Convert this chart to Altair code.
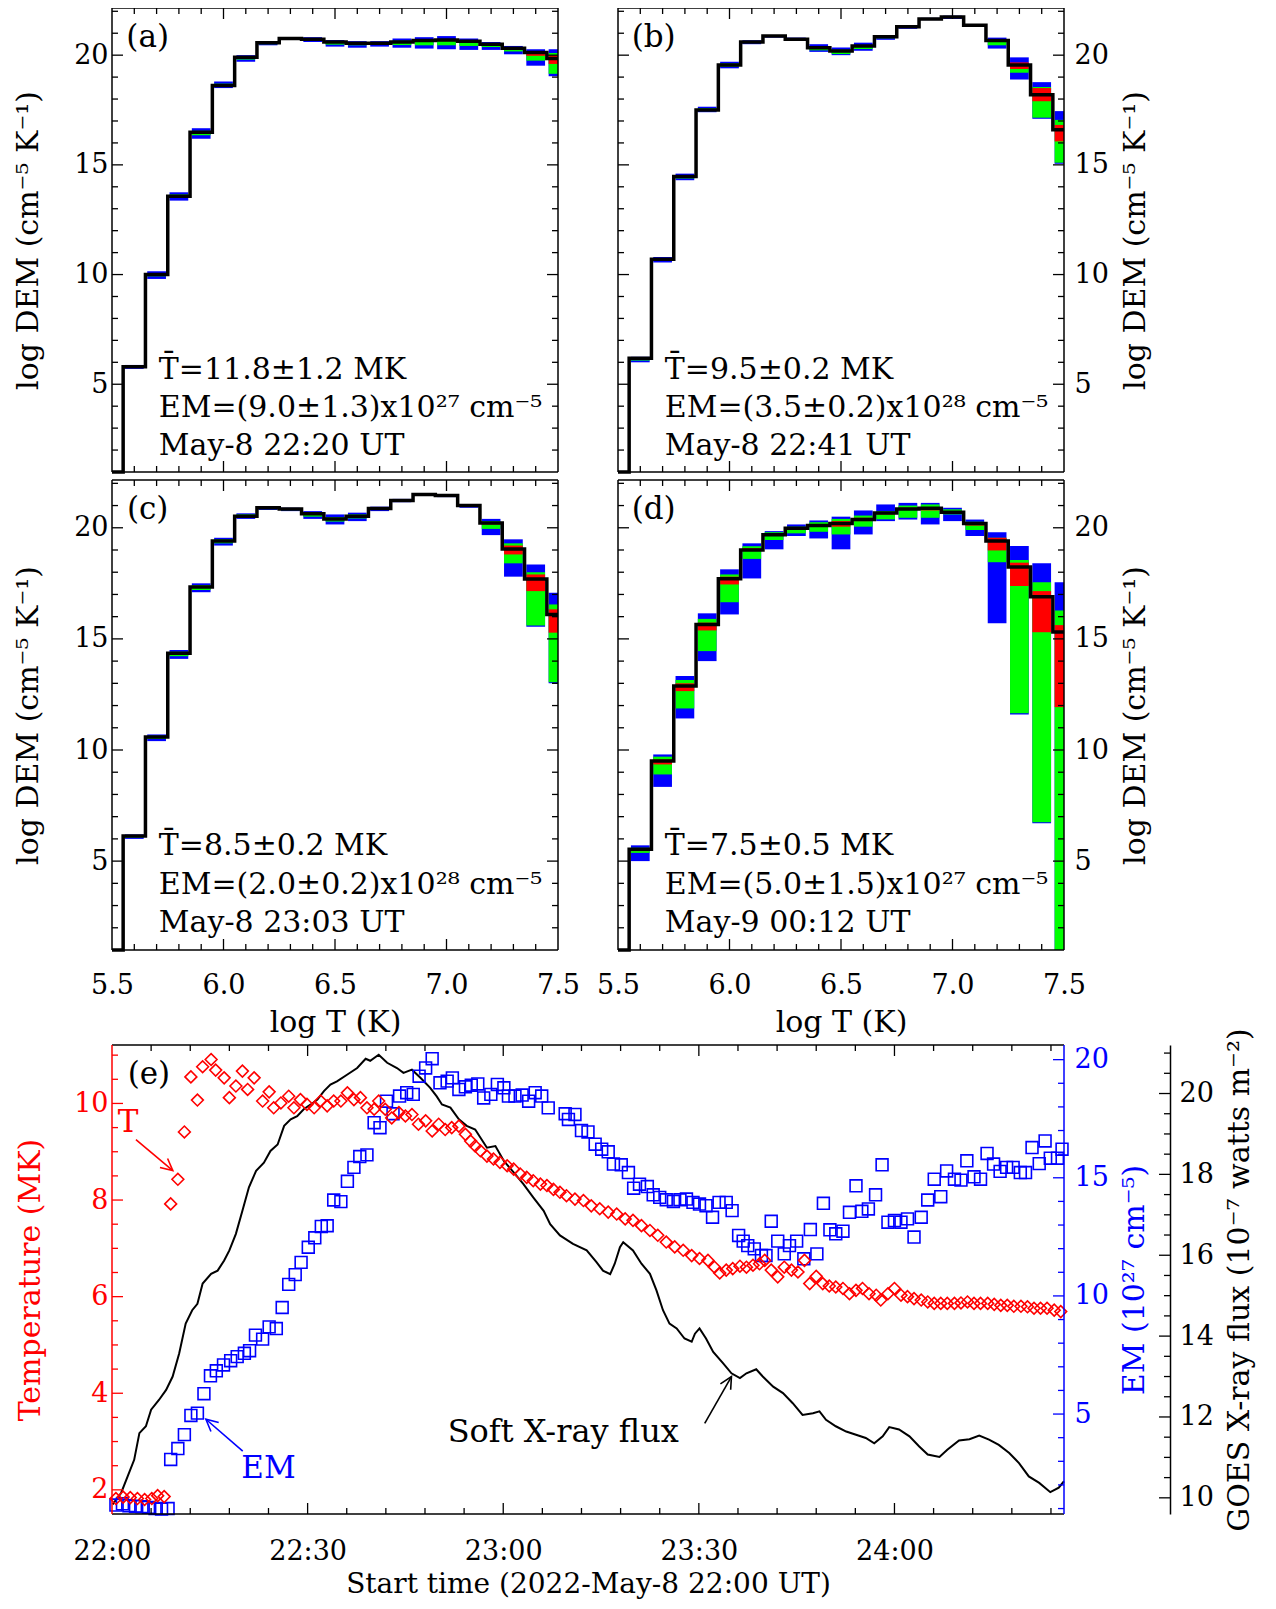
import altair as alt
import pandas as pd

FONT = "DejaVu Serif"
BLUE, GREEN, RED = "#0000ff", "#00ff00", "#ff0000"

# ---------------- DEM panels (a)-(d) ----------------
LOGT = [5.5, 5.6, 5.7, 5.8, 5.9, 6.0, 6.1, 6.2, 6.3, 6.4, 6.5,
        6.6, 6.7, 6.8, 6.9, 7.0, 7.1, 7.2, 7.3, 7.4, 7.5]

A_DEM = [1.0, 5.8, 10.0, 13.57, 16.49, 18.62, 19.9, 20.57, 20.76, 20.72, 20.6, 20.54, 20.54, 20.6, 20.67, 20.69, 20.64, 20.5, 20.31, 20.12, 19.85]
A_BLO = [None, 5.7, 9.8, 13.37, 16.19, 18.5, 19.7, 20.45, 20.69, 20.6, 20.39, 20.34, 20.39, 20.34, 20.3, 20.27, 20.24, 20.24, 20.04, 19.52, 19.04]
A_BHI = [None, 5.88, 10.15, 13.75, 16.67, 18.8, 20.0, 20.64, 20.8, 20.82, 20.69, 20.64, 20.64, 20.76, 20.82, 20.87, 20.76, 20.6, 20.42, 20.27, 20.27]
A_GLO = [None, 5.75, 9.92, 13.5, 16.35, 18.58, 19.8, 20.5, 20.71, 20.65, 20.48, 20.45, 20.47, 20.46, 20.45, 20.45, 20.42, 20.37, 20.17, 19.75, 19.15]
A_GHI = [None, 5.83, 10.05, 13.65, 16.55, 18.7, 19.95, 20.6, 20.78, 20.77, 20.62, 20.58, 20.58, 20.66, 20.7, 20.72, 20.66, 20.54, 20.34, 20.04, 20.1]
A_RLO = [None, 5.77, 9.97, 13.54, 16.45, 18.6, 19.87, 20.54, 20.73, 20.69, 20.56, 20.5, 20.51, 20.56, 20.62, 20.64, 20.59, 20.46, 20.27, 19.97, 19.6]
A_RHI = [None, 5.82, 10.02, 13.6, 16.52, 18.65, 19.93, 20.59, 20.77, 20.74, 20.62, 20.57, 20.56, 20.63, 20.7, 20.72, 20.67, 20.53, 20.35, 20.12, 20.0]

B_DEM = [1.0, 6.18, 10.7, 14.47, 17.5, 19.55, 20.6, 20.87, 20.72, 20.34, 20.19, 20.42, 20.84, 21.29, 21.65, 21.74, 21.36, 20.67, 19.55, 18.2, 16.6]
B_BLO = [None, 6.0, 10.55, 14.3, 17.4, 19.4, 20.5, 20.8, 20.65, 20.15, 20.0, 20.2, 20.7, 21.2, 21.6, 21.65, 21.3, 20.3, 18.89, 17.1, 15.05]
B_BHI = [None, 6.25, 10.8, 14.6, 17.65, 19.7, 20.68, 20.9, 20.8, 20.5, 20.35, 20.57, 20.9, 21.35, 21.7, 21.8, 21.4, 20.8, 19.9, 18.77, 17.45]
B_GLO = [None, 6.08, 10.62, 14.38, 17.45, 19.48, 20.55, 20.83, 20.68, 20.22, 20.05, 20.28, 20.77, 21.24, 21.62, 21.7, 21.33, 20.45, 19.2, 17.15, 15.1]
B_GHI = [None, 6.2, 10.75, 14.53, 17.58, 19.62, 20.64, 20.88, 20.76, 20.4, 20.25, 20.45, 20.87, 21.32, 21.68, 21.77, 21.38, 20.65, 19.6, 18.55, 17.05]
B_RLO = [None, 6.14, 10.67, 14.44, 17.48, 19.52, 20.58, 20.85, 20.7, 20.3, 20.15, 20.38, 20.82, 21.27, 21.64, 21.72, 21.35, 20.62, 19.37, 17.9, 16.07]
B_RHI = [None, 6.2, 10.73, 14.5, 17.53, 19.58, 20.62, 20.89, 20.75, 20.37, 20.22, 20.45, 20.86, 21.31, 21.67, 21.76, 21.38, 20.7, 19.67, 18.5, 16.82]

C_DEM = [1.0, 6.13, 10.58, 14.35, 17.33, 19.4, 20.52, 20.9, 20.85, 20.63, 20.4, 20.52, 20.87, 21.23, 21.5, 21.45, 21.0, 20.22, 19.05, 17.7, 16.1]
C_BLO = [None, 6.0, 10.4, 14.1, 17.1, 19.2, 20.4, 20.8, 20.75, 20.4, 20.15, 20.3, 20.75, 21.15, 21.45, 21.38, 20.9, 19.67, 17.8, 15.55, 13.0]
C_BHI = [None, 6.2, 10.7, 14.5, 17.5, 19.55, 20.65, 20.95, 20.9, 20.75, 20.6, 20.68, 20.95, 21.3, 21.55, 21.5, 21.05, 20.4, 19.48, 18.35, 17.08]
C_GLO = [None, 6.06, 10.5, 14.22, 17.2, 19.3, 20.47, 20.84, 20.79, 20.5, 20.28, 20.42, 20.8, 21.19, 21.47, 21.41, 20.95, 19.95, 18.4, 15.6, 13.05]
C_GHI = [None, 6.17, 10.64, 14.42, 17.42, 19.48, 20.6, 20.92, 20.88, 20.68, 20.48, 20.6, 20.92, 21.27, 21.53, 21.48, 21.03, 20.3, 19.3, 18.0, 16.55]
C_RLO = [None, 6.1, 10.55, 14.32, 17.3, 19.37, 20.5, 20.88, 20.83, 20.6, 20.36, 20.49, 20.85, 21.21, 21.49, 21.43, 20.98, 20.15, 18.8, 17.15, 15.28]
C_RHI = [None, 6.16, 10.61, 14.38, 17.36, 19.43, 20.55, 20.92, 20.87, 20.66, 20.43, 20.55, 20.9, 21.26, 21.52, 21.47, 21.02, 20.25, 19.2, 17.9, 16.33]

D_DEM = [1.0, 5.53, 9.51, 12.88, 15.65, 17.71, 19.0, 19.69, 19.98, 20.1, 20.19, 20.37, 20.66, 20.85, 20.88, 20.7, 20.19, 19.4, 18.23, 16.9, 15.31]
D_BLO = [None, 5.0, 8.34, 11.42, 14.0, 16.1, 17.72, 19.03, 19.63, 19.52, 19.03, 19.7, 20.3, 20.37, 20.15, 20.3, 19.63, 15.7, 11.6, 6.7, 1.0]
D_BHI = [None, 5.71, 9.8, 13.33, 16.15, 18.13, 19.3, 19.85, 20.15, 20.33, 20.5, 20.78, 21.05, 21.12, 21.12, 20.9, 20.37, 19.8, 19.18, 18.4, 17.55]
D_GLO = [None, 5.37, 8.9, 11.87, 14.45, 16.65, 18.6, 19.45, 19.75, 19.82, 19.7, 20.05, 20.38, 20.45, 20.45, 20.6, 19.9, 18.45, 11.65, 6.75, 1.0]
D_GHI = [None, 5.6, 9.7, 13.15, 15.9, 17.9, 19.17, 19.8, 20.05, 20.25, 20.4, 20.55, 20.75, 21.0, 21.05, 20.83, 20.27, 19.55, 18.55, 17.55, 16.28]
D_RLO = [None, 5.45, 9.35, 12.65, 15.38, 17.45, 19.0, 19.65, 19.93, 20.05, 20.05, 20.3, 20.6, 20.8, 20.78, 20.65, 20.1, 18.98, 17.38, 15.3, 11.93]
D_RHI = [None, 5.55, 9.57, 13.0, 15.73, 17.8, 19.08, 19.72, 20.0, 20.15, 20.3, 20.45, 20.7, 20.9, 20.88, 20.75, 20.22, 19.55, 18.43, 17.15, 15.62]

TXT_A = ["T\u0304=11.8\u00b11.2 MK", "EM=(9.0\u00b11.3)x10\u00b2\u2077 cm\u207b\u2075", "May-8 22:20 UT"]
TXT_B = ["T\u0304=9.5\u00b10.2 MK", "EM=(3.5\u00b10.2)x10\u00b2\u2078 cm\u207b\u2075", "May-8 22:41 UT"]
TXT_C = ["T\u0304=8.5\u00b10.2 MK", "EM=(2.0\u00b10.2)x10\u00b2\u2078 cm\u207b\u2075", "May-8 23:03 UT"]
TXT_D = ["T\u0304=7.5\u00b10.5 MK", "EM=(5.0\u00b11.5)x10\u00b2\u2077 cm\u207b\u2075", "May-9 00:12 UT"]
TXT_X = [5.71, 5.71, 5.71]
TXT_Y = [5.66, 3.91, 2.2]

DEM_XTICKS = [5.5, 6.0, 6.5, 7.0, 7.5]
DEM_YTICKS = [5, 10, 15, 20]
DEM_XMINOR = [5.6, 5.7, 5.8, 5.9, 6.1, 6.2, 6.3, 6.4, 6.6, 6.7, 6.8, 6.9, 7.1, 7.2, 7.3, 7.4]
DEM_XMAJOR = [6.0, 6.5, 7.0]
DEM_YMINOR = [2, 3, 4, 6, 7, 8, 9, 11, 12, 13, 14, 16, 17, 18, 19, 21, 22]
DEM_YMAJOR = [5, 10, 15, 20]
DEM_TITLE = "log DEM (cm\u207b\u2075 K\u207b\u00b9)"

# ---------------- panel (e) ----------------
T_TIME = [0.6, 1.7, 2.8, 3.9, 5.0, 6.1, 7.0, 8.0, 9.0, 10.1, 11.1, 12.1, 13.1, 13.9, 15.2, 15.9, 17.2, 18.0,
          19.0, 20.0, 20.8, 21.8, 23.1, 24.1, 24.8, 25.9, 27.1, 27.9, 28.9, 29.9, 31.0, 32.0, 33.0, 34.0,
          35.1, 36.1, 37.1, 38.1, 39.1, 40.2, 40.9, 41.9, 42.9, 44.0, 45.0, 46.0, 47.0, 48.1, 49.1, 50.1,
          51.1, 52.1, 53.2, 54.2, 55.0, 55.7, 56.5, 57.5, 58.5, 59.5, 60.6, 61.6, 62.6, 63.6, 64.6, 65.7,
          66.7, 67.7, 68.7, 69.7, 71.0, 72.3, 73.5, 74.8, 76.1, 77.4, 78.7, 79.9, 81.2, 82.5, 83.7, 85.0,
          86.3, 87.6, 88.9, 90.1, 91.4, 92.4, 93.2, 94.2, 95.2, 96.3, 97.3, 98.3, 99.3, 100.1, 101.1, 102.1,
          103.1, 104.2, 105.2, 106.2, 107.0, 108.0, 109.0, 110.0, 111.0, 112.1, 113.1, 114.1, 115.1, 116.1,
          117.2, 117.9, 119.0, 120.0, 121.0, 122.0, 123.0, 124.1, 125.1, 126.1, 127.1, 128.1, 129.2, 130.2,
          131.2, 132.2, 133.2, 134.3, 135.3, 136.3, 137.3, 138.3, 139.4, 140.4, 141.4, 142.4, 143.4, 144.5, 145.5]
T_VAL = [1.82, 1.85, 1.84, 1.82, 1.8, 1.82, 1.88, 1.86, 7.92, 8.43, 9.41, 10.55, 10.07, 10.76, 10.91, 10.69, 10.53, 10.12,
         10.36, 10.67, 10.29, 10.53, 10.05, 10.24, 9.91, 10.01, 10.15, 9.91, 10.08, 9.98, 9.91, 10.05, 9.95, 10.05,
         10.05, 10.22, 10.08, 10.12, 9.91, 9.88, 10.05, 9.88, 9.7, 9.81, 9.74, 9.77, 9.57, 9.64, 9.43, 9.57,
         9.46, 9.5, 9.53, 9.36, 9.22, 9.12, 9.02, 8.91, 8.85, 8.78, 8.71, 8.64, 8.54, 8.47, 8.4, 8.33,
         8.3, 8.22, 8.16, 8.09, 8.02, 7.99, 7.88, 7.82, 7.75, 7.71, 7.61, 7.58, 7.47, 7.37, 7.27, 7.13,
         7.03, 6.96, 6.85, 6.79, 6.75, 6.61, 6.49, 6.55, 6.58, 6.63, 6.61, 6.65, 6.68, 6.75, 6.55, 6.41,
         6.61, 6.55, 6.51, 6.75, 6.27, 6.42, 6.27, 6.22, 6.2, 6.17, 6.06, 6.13, 6.17, 6.06,
         6.03, 5.93, 6.06, 6.17, 6.03, 6.0, 5.96, 5.93, 5.89, 5.86, 5.86, 5.86, 5.86, 5.87,
         5.89, 5.86, 5.86, 5.86, 5.84, 5.82, 5.82, 5.8, 5.8, 5.79, 5.76, 5.76, 5.76, 5.72, 5.69]

EM_TIME = [0.6, 1.6, 2.6, 3.6, 4.6, 5.6, 6.6, 7.6, 8.6, 9.0, 10.1, 11.1, 12.1, 13.1, 14.1, 15.1, 16.0, 17.1, 18.2,
           19.2, 20.3, 21.1, 22.0, 23.1, 24.1, 25.2, 26.1, 27.1, 28.1, 29.0, 30.1, 31.1, 32.1, 33.0, 34.0,
           35.1, 36.1, 37.1, 38.0, 39.1, 40.2, 41.1, 42.1, 43.1, 44.1, 45.2, 46.2, 47.1, 48.1, 49.1, 50.3,
           51.4, 52.2, 53.2, 54.2, 55.1, 56.1, 57.0, 58.1, 59.1, 60.1, 60.8, 61.8, 62.9, 63.9, 64.9, 65.9,
           66.9, 69.5, 70.0, 71.0, 72.0, 73.0, 74.1, 75.1, 76.1, 76.9, 78.1, 79.2, 80.0, 80.9, 82.1, 83.0,
           84.0, 85.0, 86.1, 87.1, 88.1, 89.1, 90.1, 91.1, 92.1, 93.1, 94.2, 95.1, 96.1, 96.8, 97.5, 98.5,
           99.6, 100.3, 101.1, 102.1, 103.1, 103.9, 105.0, 106.1, 107.1, 108.1, 109.1, 110.1, 111.0, 112.1,
           113.1, 114.1, 115.0, 116.0, 117.1, 118.1, 119.0, 120.0, 121.0, 122.0, 123.0, 124.1, 125.1, 126.1,
           127.1, 128.0, 129.2, 130.2, 131.1, 132.2, 133.2, 134.2, 135.2, 136.2, 137.2, 138.2, 139.3, 140.1,
           141.1, 142.2, 143.1, 143.9, 145.0, 145.7]
EM_VAL = [1.15, 1.2, 1.12, 1.1, 1.08, 1.05, 1.0, 0.98, 1.0, 3.08, 3.54, 4.13, 4.94, 5.04, 5.86, 6.62, 6.83, 7.08, 7.26,
          7.43, 7.57, 7.68, 8.34, 8.17, 8.69, 8.62, 9.51, 10.49, 10.9, 11.42, 12.06, 12.46, 12.94, 12.97, 14.06,
          13.99, 14.85, 15.44, 15.9, 15.97, 17.33, 17.12, 18.24, 17.71, 18.46, 18.6, 18.53, 19.3, 19.65, 20.04, 19.02,
          19.09, 19.23, 18.74, 18.85, 18.92, 18.97, 18.38, 18.53, 18.95, 18.81, 18.46, 18.46, 18.5, 18.24, 18.6, 18.46,
          17.96, 17.71, 17.47, 17.68, 17.0, 16.94, 16.42, 16.21, 16.1, 15.58, 15.55, 15.22, 14.56, 14.73, 14.63, 14.28,
          14.17, 14.07, 14.0, 14.07, 14.1, 13.96, 13.89, 13.82, 13.33, 13.96, 13.96, 13.61, 12.56, 12.32, 12.13, 11.99,
          11.71, 11.71, 13.16, 12.32, 11.78, 12.13, 12.32, 11.57, 12.81, 11.78, 13.92, 12.8, 12.63, 12.74,
          13.54, 14.66, 13.58, 13.68, 14.28, 15.55, 13.12, 13.19, 13.12, 13.26, 12.49, 13.33, 14.06, 14.94,
          14.2, 15.29, 14.94, 14.9, 15.72, 15.04, 14.94, 16.03, 15.58, 15.27, 15.44, 15.44, 15.22, 15.22,
          16.28, 15.6, 16.56, 15.83, 15.83, 16.21]

GOES_TIME = [0.1, 1.4, 2.4, 3.4, 4.2, 5.2, 6.0, 7.2, 8.3, 9.3, 10.3, 11.3, 12.3, 13.1, 13.9, 15.2, 16.2, 17.2, 18.0,
             19.0, 20.0, 21.0, 22.1, 23.3, 24.3, 25.4, 26.4, 27.4, 28.4, 29.4, 30.5, 31.5, 32.5, 33.5, 34.5, 36.1,
             37.6, 38.9, 39.6, 40.9, 42.2, 43.7, 44.7, 46.0, 47.3, 48.8, 49.8, 50.6, 51.9, 53.2, 54.4, 55.7, 57.5,
             58.8, 60.1, 61.6, 63.1, 64.6, 66.2, 67.2, 68.7, 70.7, 72.8, 74.3, 75.3, 76.4, 77.1, 77.9, 78.4, 79.9,
             81.2, 82.5, 83.5, 84.5, 85.5, 86.6, 87.8, 88.9, 89.4, 90.1, 91.1, 92.2, 93.7, 95.0, 96.3, 97.3, 98.8,
             99.8, 101.4, 102.9, 104.4, 105.9, 107.5, 108.5, 109.5, 111.0, 112.6, 114.1, 115.6, 116.9, 118.2, 119.2,
             120.7, 122.3, 123.8, 125.1, 126.9, 128.1, 129.9, 131.5, 133.0, 134.5, 136.0, 137.6, 139.1, 140.6, 142.2,
             143.9, 145.2, 146.0]
GOES_VAL = [9.84, 10.12, 10.53, 10.94, 11.6, 11.77, 12.18, 12.42, 12.67, 13.0, 13.57, 14.31, 14.64, 14.8, 15.3, 15.54,
            15.62, 15.87, 16.12, 16.53, 17.1, 17.68, 18.09, 18.29, 18.58, 18.74, 19.2, 19.36, 19.44, 19.61, 19.73, 19.85,
            20.06, 20.22, 20.3, 20.47, 20.63, 20.86, 20.81, 20.96, 20.76, 20.63, 20.51, 20.59, 20.39, 20.14, 19.93, 19.73,
            19.65, 19.36, 19.2, 19.11, 18.66, 18.7, 18.33, 18.05, 17.76, 17.43, 17.1, 16.77, 16.49, 16.28, 16.12, 15.83,
            15.62, 15.53, 15.79, 16.2, 16.32, 16.12, 15.79, 15.54, 15.13, 14.64, 14.31, 14.19, 13.94, 13.86, 14.06, 14.19,
            13.94, 13.61, 13.33, 13.08, 12.96, 13.08, 13.18, 13.0, 12.75, 12.59, 12.34, 12.05, 12.09, 12.14, 11.93, 11.77,
            11.64, 11.56, 11.48, 11.35, 11.52, 11.75, 11.69, 11.52, 11.27, 11.07, 11.01, 11.19, 11.42, 11.45, 11.54, 11.44,
            11.31, 11.11, 10.86, 10.53, 10.37, 10.14, 10.25, 10.41]

TIME_TICKS = [0, 30, 60, 90, 120]
TIME_LABELS = ["22:00", "22:30", "23:00", "23:30", "24:00"]
TIME_MINOR = [6, 12, 18, 24, 36, 42, 48, 54, 66, 72, 78, 84, 96, 102, 108, 114, 126, 132, 138, 144]
TIME_MAJOR = [30, 60, 90, 120]
T_TICKS = [2, 4, 6, 8, 10]
T_MINOR = [2.5, 3, 3.5, 4.5, 5, 5.5, 6.5, 7, 7.5, 8.5, 9, 9.5, 10.5, 11]
EM_TICKS = [5, 10, 15, 20]
EM_MINOR = [1, 2, 3, 4, 6, 7, 8, 9, 11, 12, 13, 14, 16, 17, 18, 19]
G_TICKS = [10, 12, 14, 16, 18, 20]
G_MINOR = [10.5, 11, 11.5, 12.5, 13, 13.5, 14.5, 15, 15.5, 16.5, 17, 17.5, 18.5, 19, 19.5, 20.5, 21]

# ---------------- geometry (pixels inside the single view) ----------------
WE = 952
COL1, COL2 = (0, 446), (506, 952)
ROW1, ROW2, ROWE = (0, 464), (472, 942), (1037, 1506)
HT = ROWE[1]
GOFF = 106
HALF = 0.042
VHEAD = "M-0.5,1 L0,0 L0.5,1"


def sc(domain, rng):
    return alt.Scale(domain=domain, range=list(rng), nice=False, zero=False)


def rule_layer(vals, channel, scale, p0, p1, color):
    df = pd.DataFrame({"v": vals})
    if channel == "x":
        enc = dict(x=alt.X("v:Q", scale=scale, axis=None), y=alt.value(p0), y2=alt.value(p1))
    else:
        enc = dict(y=alt.Y("v:Q", scale=scale, axis=None), x=alt.value(p0), x2=alt.value(p1))
    return alt.Chart(df).mark_rule(color=color, strokeWidth=1.3).encode(**enc)


def seg(x0, x1, y0, y1, color, width=1.5):
    df = pd.DataFrame({"k": [0]})
    return alt.Chart(df).mark_rule(color=color, strokeWidth=width).encode(
        x=alt.value(x0), x2=alt.value(x1), y=alt.value(y0), y2=alt.value(y1))


def text_layer(xv, yv, labels, xs, ys, color, size, align="center"):
    df = pd.DataFrame({"x": xv, "y": yv, "label": labels})
    return alt.Chart(df).mark_text(align=align, baseline="middle", font=FONT, fontSize=size, color=color).encode(
        x=alt.X("x:Q", scale=xs, axis=None), y=alt.Y("y:Q", scale=ys, axis=None), text="label:N")


def dem_panel(dem, blo, bhi, glo, ghi, rlo, rhi, letter, lines, col, row, right_axis, show_x):
    xs = sc([5.5, 7.5], col)
    ys = sc([1.0, 22.15], (row[1], row[0]))
    df = pd.DataFrame({"t": LOGT, "dem": dem, "blo": blo, "bhi": bhi,
                       "glo": glo, "ghi": ghi, "rlo": rlo, "rhi": rhi})
    base = alt.Chart(df)
    if show_x:
        xax = alt.Axis(values=DEM_XTICKS, format=".1f", title="log T (K)", orient="bottom",
                       offset=row[1] - HT, labelPadding=22, titlePadding=9)
    else:
        xax = None
    if right_axis:
        yax = alt.Axis(values=DEM_YTICKS, title=DEM_TITLE, orient="right", labelPadding=10,
                       titlePadding=12, titleAngle=270, titleBaseline="top", labelAlign="left")
    else:
        yax = alt.Axis(values=DEM_YTICKS, title=DEM_TITLE, orient="left", labelPadding=4,
                       titlePadding=30)
    layers = []
    for lo, hi, colr in (("blo", "bhi", BLUE), ("glo", "ghi", GREEN), ("rlo", "rhi", RED)):
        layers.append(
            base.transform_calculate(x0=f"max(datum.t - {HALF}, 5.5)", x1=f"min(datum.t + {HALF}, 7.5)")
            .mark_rect(color=colr)
            .encode(x=alt.X("x0:Q", scale=xs, axis=None), x2="x1:Q",
                    y=alt.Y(f"{lo}:Q", scale=ys, axis=None), y2=f"{hi}:Q")
        )
    layers.append(
        base.mark_line(interpolate="step", color="black", strokeWidth=3.5)
        .encode(x=alt.X("t:Q", scale=xs, axis=xax), y=alt.Y("dem:Q", scale=ys, axis=yax))
    )
    x0, x1 = col
    ytop, ybot = row
    layers += [
        rule_layer(DEM_XMINOR, "x", xs, ybot, ybot - 6, "black"),
        rule_layer(DEM_XMINOR, "x", xs, ytop, ytop + 6, "black"),
        rule_layer(DEM_XMAJOR, "x", xs, ybot, ybot - 11, "black"),
        rule_layer(DEM_XMAJOR, "x", xs, ytop, ytop + 11, "black"),
        rule_layer(DEM_YMINOR, "y", ys, x0, x0 + 6, "black"),
        rule_layer(DEM_YMINOR, "y", ys, x1 - 6, x1, "black"),
        rule_layer(DEM_YMAJOR, "y", ys, x0, x0 + 11, "black"),
        rule_layer(DEM_YMAJOR, "y", ys, x1 - 11, x1, "black"),
        seg(x0, x1, ytop, ytop, "black"), seg(x0, x1, ybot, ybot, "black"),
        seg(x0, x0, ytop, ybot, "black"), seg(x1, x1, ytop, ybot, "black"),
        text_layer(TXT_X, TXT_Y, lines, xs, ys, "black", 30, align="left"),
        text_layer([5.66], [20.8], [letter], xs, ys, "black", 31),
    ]
    return layers


layers = []
layers += dem_panel(A_DEM, A_BLO, A_BHI, A_GLO, A_GHI, A_RLO, A_RHI, "(a)", TXT_A, COL1, ROW1, False, False)
layers += dem_panel(B_DEM, B_BLO, B_BHI, B_GLO, B_GHI, B_RLO, B_RHI, "(b)", TXT_B, COL2, ROW1, True, False)
layers += dem_panel(C_DEM, C_BLO, C_BHI, C_GLO, C_GHI, C_RLO, C_RHI, "(c)", TXT_C, COL1, ROW2, False, True)
layers += dem_panel(D_DEM, D_BLO, D_BHI, D_GLO, D_GHI, D_RLO, D_RHI, "(d)", TXT_D, COL2, ROW2, True, True)

# ---- panel (e)
XE = sc([0, 146], (0, WE))
TS = sc([1.5, 11.21], (ROWE[1], ROWE[0]))
ES = sc([0.77, 20.62], (ROWE[1], ROWE[0]))
GS = sc([9.6, 21.2], (ROWE[1], ROWE[0]))
label_expr = " : ".join(f"datum.value == {v} ? '{l}'" for v, l in zip(TIME_TICKS, TIME_LABELS)) + " : ''"


def arrow_layers(x0, y0, x1, y1, xs, ys, color, angle):
    df = pd.DataFrame({"x0": [x0], "y0": [y0], "x1": [x1], "y1": [y1]})
    line = alt.Chart(df).mark_rule(color=color, strokeWidth=1.6).encode(
        x=alt.X("x0:Q", scale=xs, axis=None), y=alt.Y("y0:Q", scale=ys, axis=None), x2="x1:Q", y2="y1:Q")
    head = alt.Chart(df).mark_point(shape=VHEAD, angle=angle, size=560, filled=False, color=color,
                                    strokeWidth=1.6, opacity=1).encode(
        x=alt.X("x1:Q", scale=xs, axis=None), y=alt.Y("y1:Q", scale=ys, axis=None))
    return [line, head]


tdf = pd.DataFrame({"t": T_TIME, "v": T_VAL})
edf = pd.DataFrame({"t": EM_TIME, "v": EM_VAL})
gdf = pd.DataFrame({"t": GOES_TIME, "v": GOES_VAL})

g_line = alt.Chart(gdf).mark_line(color="black", strokeWidth=2).encode(
    x=alt.X("t:Q", scale=XE, axis=None),
    y=alt.Y("v:Q", scale=GS, axis=alt.Axis(values=G_TICKS,
                                           title="GOES X-ray flux (10\u207b\u2077 watts m\u207b\u00b2)",
                                           orient="right", offset=GOFF, domain=True, domainColor="black",
                                           domainWidth=1.5, labelPadding=9, titlePadding=11,
                                           titleAngle=270, titleBaseline="top", labelAlign="left")))

t_points = alt.Chart(tdf).mark_point(shape="diamond", filled=False, color=RED, size=140,
                                     strokeWidth=1.6, opacity=1).encode(
    x=alt.X("t:Q", scale=XE, axis=alt.Axis(values=TIME_TICKS, labelExpr=label_expr,
                                           title="Start time (2022-May-8 22:00 UT)", orient="bottom",
                                           labelPadding=24, titlePadding=6, titleFontSize=28)),
    y=alt.Y("v:Q", scale=TS, axis=alt.Axis(values=T_TICKS, title="Temperature (MK)", orient="left",
                                           labelColor=RED, titleColor=RED, labelPadding=4,
                                           titlePadding=28)))

e_points = alt.Chart(edf).mark_point(shape="square", filled=False, color=BLUE, size=140,
                                     strokeWidth=1.6, opacity=1).encode(
    x=alt.X("t:Q", scale=XE, axis=None),
    y=alt.Y("v:Q", scale=ES, axis=alt.Axis(values=EM_TICKS, title="EM (10\u00b2\u2077 cm\u207b\u2075)",
                                           orient="right", labelColor=BLUE, titleColor=BLUE,
                                           labelPadding=10, titlePadding=11, titleAngle=270,
                                           titleBaseline="top", labelAlign="left")))

et, eb = ROWE
layers += [
    g_line, e_points, t_points,
    rule_layer(TIME_MINOR, "x", XE, eb, eb - 6, "black"),
    rule_layer(TIME_MINOR, "x", XE, et, et + 6, "black"),
    rule_layer(TIME_MAJOR, "x", XE, eb, eb - 11, "black"),
    rule_layer(TIME_MAJOR, "x", XE, et, et + 11, "black"),
    rule_layer(T_MINOR, "y", TS, 0, 6, RED),
    rule_layer(T_TICKS, "y", TS, 0, 11, RED),
    rule_layer(EM_MINOR, "y", ES, WE - 6, WE, BLUE),
    rule_layer(EM_TICKS, "y", ES, WE - 11, WE, BLUE),
    rule_layer(G_MINOR, "y", GS, WE + GOFF - 6, WE + GOFF, "black"),
    rule_layer(G_TICKS, "y", GS, WE + GOFF - 11, WE + GOFF, "black"),
    seg(0, WE, et, et, "black"), seg(0, WE, eb, eb, "black"),
    seg(0, 0, et, eb, RED), seg(WE, WE, et, eb, BLUE),
    text_layer([5.66], [10.59], ["(e)"], XE, TS, "black", 31),
    text_layer([2.45], [9.6], ["T"], XE, TS, RED, 31),
    text_layer([24.0], [2.67], ["EM"], XE, ES, BLUE, 31),
    text_layer([69.2], [11.64], ["Soft X-ray flux"], XE, GS, "black", 32),
]
layers += arrow_layers(3.67, 9.25, 9.33, 8.61, XE, TS, RED, 130)
layers += arrow_layers(20.05, 3.43, 14.4, 4.78, XE, ES, BLUE, 311)
layers += arrow_layers(90.9, 11.84, 95.0, 13.0, XE, GS, "black", 30)

chart = alt.layer(*layers).resolve_scale(x="independent", y="independent").resolve_axis(
    x="independent", y="independent"
).properties(
    width=WE, height=HT,
    autosize=alt.AutoSizeParams(type="none"),
    padding={"left": 104, "top": 0, "right": 200, "bottom": 88},
).configure_view(stroke="transparent").configure_axis(
    labelFont=FONT, titleFont=FONT, labelFontSize=27, titleFontSize=30, titleFontWeight="normal",
    labelColor="black", titleColor="black", grid=False, ticks=False, domain=False,
    labelFlush=False, labelOverlap=False
)

chart.save("out.html", embed_options={"renderer": "svg", "actions": False})
